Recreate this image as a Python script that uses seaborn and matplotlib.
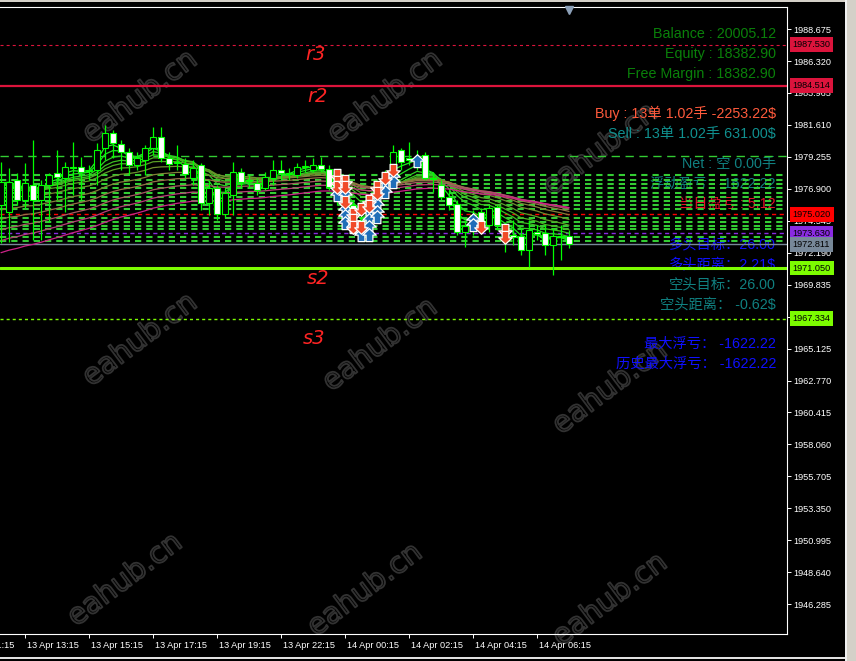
import numpy as np
import pandas as pd
import matplotlib
matplotlib.use("Agg")
import matplotlib.pyplot as plt
import matplotlib.patheffects as pe
from matplotlib.path import Path
from matplotlib.patches import Rectangle
from matplotlib.lines import Line2D
import seaborn as sns

# ---------------- data ----------------
bars = list(range(-3, 69))
opens = [1975.71, 1975.19, 1977.55, 1976.08, 1977.18, 1976.08, 1977.18, 1978.06, 1977.69, 1978.51,
         1978.51, 1978.21, 1978.28, 1979.91, 1981.01, 1980.20, 1979.61, 1978.65, 1979.02, 1979.91,
         1980.72, 1979.17, 1978.80, 1978.72, 1977.69, 1978.65, 1975.85, 1976.96, 1975.04, 1976.44,
         1978.14, 1977.55, 1977.33, 1976.96, 1977.69, 1978.28, 1977.99, 1977.92, 1978.51, 1978.28,
         1978.65, 1978.36, 1977.55, 1976.08, 1975.71, 1974.60, 1974.01, 1975.71, 1976.81, 1978.28,
         1979.76, 1979.17, 1978.87, 1979.39, 1977.69, 1977.18, 1976.30, 1975.78, 1973.71, 1974.01,
         1975.19, 1974.23, 1975.56, 1974.23, 1973.49, 1973.42, 1972.39, 1973.71, 1973.64, 1972.76,
         1973.42, 1973.42]
highs = [1978.87, 1978.43, 1978.06, 1978.80, 1980.49, 1977.55, 1978.06, 1979.76, 1978.87, 1980.35,
         1979.24, 1978.65, 1980.27, 1981.60, 1981.23, 1980.49, 1979.91, 1979.61, 1980.13, 1981.45,
         1981.45, 1979.61, 1980.13, 1979.17, 1979.02, 1978.80, 1977.55, 1977.18, 1976.96, 1978.87,
         1978.43, 1977.92, 1977.69, 1978.14, 1979.02, 1979.02, 1978.43, 1978.80, 1979.02, 1979.17,
         1979.24, 1978.65, 1977.92, 1976.44, 1976.08, 1975.04, 1976.08, 1977.55, 1978.28, 1980.13,
         1979.91, 1980.35, 1979.76, 1979.61, 1978.14, 1977.55, 1976.81, 1976.08, 1974.60, 1975.34,
         1975.48, 1975.71, 1975.71, 1974.45, 1974.60, 1974.01, 1974.60, 1974.23, 1974.23, 1974.01,
         1974.23, 1973.86]
lows = [1972.91, 1972.98, 1975.71, 1975.48, 1973.13, 1973.13, 1974.45, 1976.08, 1975.19, 1976.44,
        1976.08, 1977.55, 1977.18, 1979.02, 1979.17, 1978.28, 1977.92, 1978.28, 1977.92, 1979.39,
        1978.87, 1978.28, 1978.28, 1977.69, 1977.18, 1975.34, 1974.97, 1974.60, 1974.75, 1974.97,
        1976.96, 1976.96, 1976.44, 1976.81, 1977.18, 1977.55, 1977.55, 1977.69, 1978.14, 1978.14,
        1978.14, 1976.81, 1975.71, 1974.75, 1973.94, 1973.49, 1973.71, 1975.19, 1976.44, 1977.92,
        1978.28, 1978.65, 1978.28, 1977.55, 1976.66, 1976.08, 1975.34, 1973.49, 1972.61, 1973.49,
        1973.71, 1973.71, 1973.86, 1972.24, 1972.76, 1972.02, 1971.14, 1973.13, 1972.02, 1970.55,
        1971.65, 1972.54]
closes = [1977.40, 1977.40, 1976.08, 1977.33, 1976.08, 1977.18, 1977.92, 1977.77, 1978.51, 1978.43,
          1978.14, 1978.28, 1979.76, 1981.01, 1980.27, 1979.61, 1978.65, 1979.17, 1979.91, 1980.72,
          1979.17, 1978.72, 1978.87, 1977.99, 1978.43, 1975.85, 1976.96, 1975.04, 1976.59, 1978.14,
          1977.40, 1977.47, 1976.81, 1977.77, 1978.28, 1978.06, 1978.06, 1978.51, 1978.58, 1978.65,
          1978.36, 1977.03, 1976.08, 1975.34, 1974.45, 1974.01, 1975.71, 1976.81, 1977.92, 1979.61,
          1978.87, 1979.02, 1979.24, 1977.69, 1977.62, 1976.30, 1975.71, 1973.71, 1974.16, 1974.97,
          1974.23, 1975.48, 1974.23, 1973.49, 1973.34, 1972.39, 1973.86, 1973.57, 1972.76, 1973.42,
          1973.34, 1972.83]

tick_prices = [1988.675, 1986.320, 1983.965, 1981.610, 1979.255, 1976.900, 1974.545, 1972.190,
               1969.835, 1967.480, 1965.125, 1962.770, 1960.415, 1958.060, 1955.705, 1953.350,
               1950.995, 1948.640, 1946.285]
time_bars = [-8, 0, 8, 16, 24, 32, 40, 48, 56, 64]
time_labels = ["13 Apr 11:15", "13 Apr 13:15", "13 Apr 15:15", "13 Apr 17:15", "13 Apr 19:15",
               "13 Apr 22:15", "14 Apr 00:15", "14 Apr 02:15", "14 Apr 04:15", "14 Apr 06:15"]

ma_periods = [3, 5, 8, 11, 14, 18, 24, 30, 36, 42, 48, 55]
ma_seeds = [1977.3, 1977.3, 1977.2, 1977.2, 1977.1, 1976.7, 1976.1, 1975.2, 1974.5, 1973.7, 1972.9, 1972.0]
ma_colors = ['#22EE22', '#22E022', '#2ED022', '#3CC022', '#4AB022', '#5AA026', '#6E902E',
             '#828038', '#967048', '#A85A62', '#BA3C78', '#CC2288']

order_levels = [1979.32, 1977.92, 1977.55, 1977.25, 1976.96, 1976.59, 1976.30, 1976.00, 1975.71,
                1975.41, 1974.75, 1974.45, 1974.16, 1973.94, 1973.35, 1973.05]

level_prices = [1987.530, 1984.514, 1975.020, 1973.630, 1972.811, 1971.050, 1967.334]
level_labels = ["1987.530", "1984.514", "1975.020", "1973.630", "1972.811", "1971.050", "1967.334"]
level_colors = ['#DC143C', '#DC143C', '#FF0000', '#8A2BE2', '#778899', '#7CFC00', '#7CFC00']

buy_bars = [39, 40, 40, 40, 40, 41, 42, 43, 43, 43, 43, 44, 44, 44, 44, 45, 45, 46, 46, 49, 56, 56]
buy_prices = [1976.44, 1976.44, 1975.34, 1974.89, 1974.38, 1974.08, 1973.49, 1975.12, 1974.60,
              1974.08, 1973.49, 1976.22, 1975.71, 1975.19, 1974.82, 1977.33, 1976.66, 1977.77,
              1977.40, 1978.95, 1974.60, 1974.23]
sell_bars = [39, 39, 39, 40, 40, 40, 41, 41, 41, 42, 42, 43, 43, 44, 44, 45, 46, 57, 60, 60]
sell_prices = [1977.92, 1977.40, 1977.03, 1977.47, 1977.03, 1975.93, 1975.04, 1974.60, 1974.08,
               1975.41, 1974.08, 1976.00, 1975.63, 1977.03, 1976.59, 1977.69, 1978.28, 1974.08,
               1973.86, 1973.35]

info_texts = ["Balance : 20005.12", "Equity : 18382.90", "Free Margin : 18382.90",
              "Buy : 13单 1.02手 -2253.22$", "Sell : 13单 1.02手 631.00$", "Net : 空 0.00手",
              "浮动盈亏 : -1622.22", "当日盈亏 : 5.12", "多头目标：26.00", "多头距离：2.21$",
              "空头目标：26.00", "空头距离： -0.62$", "最大浮亏： -1622.22", "历史最大浮亏： -1622.22"]
info_colors = ['#0A800A', '#0A800A', '#0A800A', '#FF5A3C', '#10908F', '#108080', '#108080',
               '#E8102A', '#1010FF', '#1010FF', '#108080', '#108080', '#1010FF', '#1010FF']

# ---------------- style ----------------
sns.set_theme(style='dark')
plt.rcParams['font.family'] = ['Liberation Sans', 'Noto Sans CJK SC', 'DejaVu Sans']
plt.rcParams['lines.scale_dashes'] = False
plt.rcParams['axes.unicode_minus'] = False

W, H = 856, 661
AX_L, AX_R, AX_T, AX_B = 0, 787, 7, 634
fig = plt.figure(figsize=(W / 100, H / 100), dpi=100, facecolor='black')
ax = fig.add_axes([AX_L / W, (H - AX_B) / H, (AX_R - AX_L) / W, (AX_B - AX_T) / H])
ax.patch.set_visible(False)
ax.set_xlim(-3.125, 95.25)
ax.set_ylim(1944.09, 1990.30)
ax.grid(False)


def afrac(px, py):
    return (px - AX_L) / (AX_R - AX_L), (AX_B - py) / (AX_B - AX_T)


# watermarks (behind everything)
for (px, py) in [(140, 97), (385, 97), (600, 150), (140, 340), (380, 345), (610, 388),
                 (125, 580), (365, 590), (610, 600)]:
    fig.text(px / W, 1 - py / H, 'eahub.cn', rotation=37, ha='center', va='center',
             fontsize=21, family='DejaVu Sans', color=(0, 0, 0, 0), zorder=-5,
             path_effects=[pe.Stroke(linewidth=1.3, foreground='#323232')])

# spines & ticks
for s in ['top', 'right', 'bottom']:
    ax.spines[s].set_color('white')
    ax.spines[s].set_linewidth(0.8)
    ax.spines[s].set_visible(True)
ax.spines['left'].set_visible(False)
ax.yaxis.tick_right()
ax.set_yticks(tick_prices)
ax.set_yticklabels([f"{v:.3f}" for v in tick_prices])
ax.tick_params(axis='y', which='both', right=True, left=False, direction='out', length=3,
               width=0.7, colors='white', labelsize=6.6, pad=1.6)
ax.set_xticks(time_bars[1:])
ax.set_xticklabels([])
ax.tick_params(axis='x', bottom=True, direction='out', length=3, width=0.7, colors='white')
for tb, tl in zip(time_bars, time_labels):
    ax.text(tb + 0.25, -0.0187, tl, transform=ax.get_xaxis_transform(), ha='left', va='center',
            color='white', fontsize=6.6, clip_on=False)

# info texts (behind lines)
info_y = [32.5, 52.5, 72.5, 112.5, 132.5, 162.5, 182.5, 202.5, 242.5, 262.5, 282.5, 302.5, 342.5, 362.5]
for txt, col, py in zip(info_texts, info_colors, info_y):
    x, y = afrac(776, py + 5.5)
    ax.text(x, y, txt, transform=ax.transAxes, ha='right', va='baseline', color=col,
            fontsize=10.3, zorder=1)

# order lines
for i, lv in enumerate(order_levels):
    if i == 0:
        ax.axhline(lv, color='#33CC33', lw=1.0, dashes=(6, 4), zorder=2)
    else:
        ax.axhline(lv, color='#33CC33', lw=1.5, dashes=(4.5, 3.6), zorder=2)

# key level lines
level_styles = [dict(lw=0.8, dashes=(2.2, 2.2)), dict(lw=1.6), dict(lw=1.0, dashes=(3, 2.5)),
                dict(lw=1.0, dashes=(3, 2.5)), dict(lw=1.0), dict(lw=2.2), dict(lw=1.0, dashes=(2.2, 2.2))]
for lp, lc, st in zip(level_prices, level_colors, level_styles):
    ax.axhline(lp, color=lc, zorder=2.2, **st)

# moving averages
for p, seed, col in zip(ma_periods, ma_seeds, ma_colors):
    ema = pd.Series([seed] + closes).ewm(alpha=2 / (p + 1), adjust=False).mean().iloc[1:].values
    sns.lineplot(x=bars, y=ema, color=col, linewidth=0.9, ax=ax, zorder=3, legend=False)

# candles
o = np.array(opens); c = np.array(closes); h = np.array(highs); l = np.array(lows)
bx = np.array(bars)
ax.vlines(bx, l, h, color='#00FF00', lw=0.9, zorder=4)
bear = c < o
body_low = np.minimum(o, c)
body_h = np.maximum(np.abs(c - o), 0.02)
ax.bar(bx[bear], body_h[bear], bottom=body_low[bear], width=0.66, color='white',
       edgecolor='#00FF00', linewidth=0.8, zorder=5)
ax.bar(bx[~bear], body_h[~bear], bottom=body_low[~bear], width=0.66, color='black',
       edgecolor='#00FF00', linewidth=0.8, zorder=5)

# trade arrows
up_verts = [(0, 1), (1, 0.05), (0.5, 0.05), (0.5, -0.9), (-0.5, -0.9), (-0.5, 0.05), (-1, 0.05), (0, 1)]
codes = [Path.MOVETO] + [Path.LINETO] * 6 + [Path.CLOSEPOLY]
up_arrow = Path(up_verts, codes)
down_arrow = Path([(x, -y) for x, y in up_verts], codes)
ax.scatter(buy_bars, buy_prices, marker=up_arrow, s=95, c='#1F6EB8', edgecolors='white',
           linewidths=0.9, zorder=6)
ax.scatter(sell_bars, sell_prices, marker=down_arrow, s=95, c='#F04A28', edgecolors='white',
           linewidths=0.9, zorder=6)

# price label boxes on the right axis
for lp, lt, lc in zip(level_prices, level_labels, level_colors):
    ax.text(792.5 / 787, lp, lt, transform=ax.get_yaxis_transform(), ha='left', va='center',
            fontsize=6.6, color='black', clip_on=False, zorder=10,
            bbox=dict(boxstyle='square,pad=0.3', facecolor=lc, edgecolor='none'))

# handwritten marks
for txt, (px, py) in zip(['r3', 'r2', 's2', 's3'], [(316, 55), (318, 96), (318, 278), (314, 338)]):
    x, y = afrac(px, py)
    ax.text(x, y, txt, transform=ax.transAxes, ha='center', va='center', color='#FF2424',
            fontsize=14, family='DejaVu Sans', fontweight='light', style='italic', zorder=7)

# window chrome
fig.add_artist(Line2D([569 / W], [1 - 10 / H], marker='v', markersize=6, color='#8CA0B8',
                      transform=fig.transFigure))
fig.add_artist(Rectangle((845 / W, 0), 11 / W, 1, transform=fig.transFigure,
                         facecolor='#D4D0C8', edgecolor='none'))
fig.add_artist(Rectangle((845 / W, 0), 1.5 / W, 1, transform=fig.transFigure,
                         facecolor='#F0F0F0', edgecolor='none'))
fig.add_artist(Rectangle((0, 1 - 2 / H), 845 / W, 2 / H, transform=fig.transFigure,
                         facecolor='#D4D0C8', edgecolor='none'))
fig.add_artist(Rectangle((0, 1 - 658.5 / H), 845 / W, 1.2 / H, transform=fig.transFigure,
                         facecolor='#E0E0E0', edgecolor='none'))

fig.savefig('out.png', dpi=100, facecolor='black')
